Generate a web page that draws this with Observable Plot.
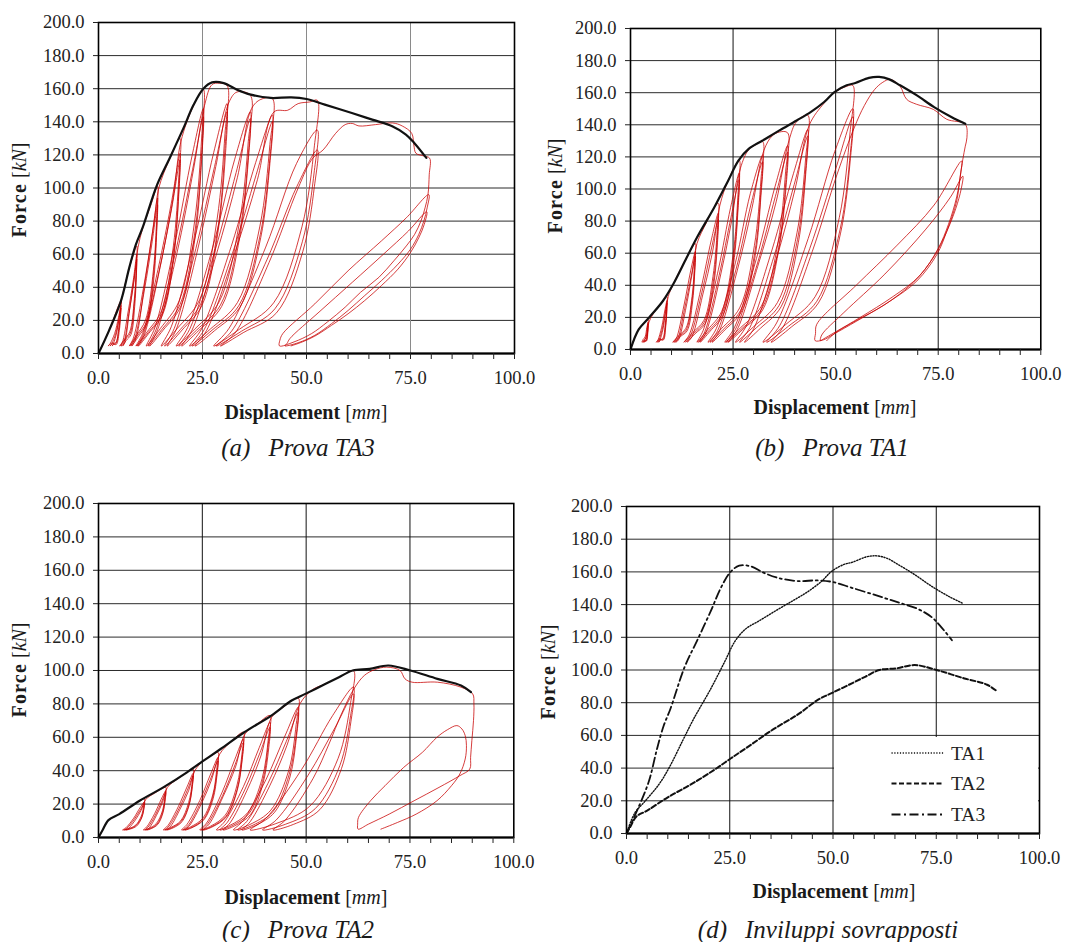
<!DOCTYPE html>
<html><head><meta charset="utf-8">
<script src="https://cdn.jsdelivr.net/npm/d3@7"></script>
<script src="https://cdn.jsdelivr.net/npm/@observablehq/plot@0.6"></script>
<style>
body{margin:0;background:#fff;}
#root{position:relative;width:1067px;height:942px;overflow:hidden;font-family:'Liberation Serif',serif;color:#1a1a1a;}
.t{position:absolute;white-space:nowrap;transform:translate(-50%,-50%);line-height:1;}
.xt{font-size:20px;}
.yt{font-size:20px;transform:translate(-50%,-50%) rotate(-90deg);}
.yt b{letter-spacing:1.2px;}
.cap{font-size:25px;font-style:italic;}
.cap span{margin-right:18px;}
</style></head><body><div id="root"></div>
<script>
// ---- ticks ----
const yTicks = [0,20,40,60,80,100,120,140,160,180,200];
const xMinorTicks = [0,5,10,15,20,25,30,35,40,45,50,55,60,65,70,75,80,85,90,95,100];
const xLabelTicks = [0,25,50,75,100];
const xGridTicks = [25,50,75];
const legendLabels = ["TA1","TA2","TA3"];

// ---- envelopes (x mm, F kN), flat pairs ----
const ta3Envelope = [0,0, 2.5,13.7, 5.4,31.8, 7.4,51.9, 9,65.9, 10.6,76, 14.1,102, 17.1,118, 20.4,136, 22.8,150, 25.2,160, 27.3,163.8, 30.1,163.4, 33.3,159.4, 36.6,156.4, 41.4,154.4, 46.3,154.8, 50,153.8, 54.4,150.4, 60.9,145.3, 65.8,141.3, 70.6,137.3, 73.9,132.3, 75.9,127.2, 78.8,118.2];
const ta1Envelope = [0,0, 2,12.5, 4.5,19.8, 7.9,30.2, 10.4,40.6, 13.7,57.3, 16.2,69.8, 20.4,88.5, 23.8,105.2, 26.3,117.7, 28.8,125, 32.2,130.2, 36.3,136.5, 40.5,142.7, 43.9,147.9, 47.2,154.2, 49.7,160.4, 52.7,164.6, 54.8,166, 58.1,169.2, 60.6,169.8, 63.1,168.3, 65.7,164.6, 69.8,158.3, 74,151, 78.2,144.8, 81.6,140.6];
const ta2Envelope = [0,0, 0.9,4, 2.4,10.4, 5,14, 9.9,22, 15.6,30, 21.3,39, 25.3,46, 29.4,53, 35.1,63, 41.6,73, 46.5,82, 49.8,86, 54.7,92, 57.9,96, 61.2,100, 65.3,101, 69.8,103, 75.1,100, 81.6,95, 87.3,91, 89.7,87];

// ---- hysteresis loops, one flat array per load level ----
const ta3Loops = [
[0,0, 2.5,13.7, 5.4,31.8, 5.3,26.1, 4.9,15.9, 4.1,6.4, 3.1,6.2, 2.3,4.5, 2.8,6, 3.9,12.2, 4.8,21.8, 5.4,29, 5.3,23.8, 4.9,14.5, 4.1,5.8, 3.3,5.8, 2.8,4.5, 3.2,6, 4.1,11.6, 4.9,20.6, 5.4,27.5, 5.3,22.5, 5.0,13.8, 4.3,5.5, 3.6,5.5, 3.3,4.5],
[3.6,6, 4.4,13, 5.2,26, 5.6,33, 7.4,51.5, 9.2,65, 9.1,53.3, 8.6,32.5, 7.5,13, 6.2,8.5, 5.1,4.5, 5.7,6.5, 7.1,25, 8.4,45, 9.2,60, 9.1,49, 8.6,30, 7.6,12, 6.3,8.2, 5.4,4.5, 6,6, 7.3,24, 8.5,43, 9.2,57, 9.1,47, 8.7,28.5, 7.8,11.4, 6.7,8, 5.8,4.5],
[6.3,6.5, 7.5,27, 8.8,50, 9.5,64, 10.6,75.5, 12.5,89, 14.2,101, 14.0,82.8, 13.2,50.5, 11.3,20.2, 9.1,11, 7.4,4.5, 8.4,9.4, 10.8,39.5, 12.8,70.5, 14.2,94, 14.0,77, 13.2,47, 11.5,18.8, 9.3,10.6, 7.7,4.5, 8.7,9, 11,37.8, 12.9,67.5, 14.2,90, 14.0,73.8, 13.3,45, 11.6,18, 9.6,10.3, 8.0,4.5],
[9,9, 11.1,42, 13.4,80, 14.5,100, 17.1,117.5, 19.6,130, 19.3,106.6, 18.0,65, 15.2,26, 11.7,13.1, 9.0,4.5, 10.6,12.1, 14.3,50.8, 17.5,90.8, 19.6,121, 19.3,99.2, 18.1,60.5, 15.3,24.2, 11.9,12.5, 9.3,4.5, 10.8,11.7, 14.5,49, 17.6,87.8, 19.6,117, 19.3,96, 18.1,58.5, 15.4,23.4, 12.1,12.2, 9.6,4.5],
[11.1,12, 14.8,52, 18,95, 19.8,128, 22.8,149.5, 25.2,159.5, 24.8,130.8, 23.1,79.8, 19.4,31.9, 14.9,15.2, 11.5,4.5, 13.6,16, 18.4,67, 22.5,119.6, 25.2,148, 24.8,121.4, 23.2,74, 19.6,29.6, 15.2,14.4, 11.9,4.5, 13.9,14.8, 18.6,62.2, 22.6,111, 25.2,143, 24.8,117.3, 23.3,71.5, 19.8,28.6, 15.5,14, 12.3,4.5],
[14.2,14.3, 18.8,60, 22.9,112, 25.5,150, 27.3,162.5, 29,163.3, 30.9,162, 30.4,132.8, 28.5,81, 24.3,32.4, 19.0,15.3, 15.1,4.5, 17.5,16.2, 23.0,68, 27.7,121.5, 30.9,151, 30.4,123.8, 28.7,75.5, 24.6,30.2, 19.7,14.6, 15.9,4.5, 18.2,15.1, 23.4,63.4, 27.9,113, 30.9,146, 30.5,119.7, 28.7,73, 24.9,29.2, 20.1,14.2, 16.5,4.5],
[18.7,14.6, 23.7,61.3, 28.2,113, 31.4,152, 33.3,158, 36.5,156, 36.0,127.9, 33.8,78, 29.0,31.2, 23.2,14.9, 18.7,4.5, 21.4,15.6, 27.6,65.5, 32.7,117, 36.5,146, 36.0,119.7, 33.9,73, 29.3,29.2, 23.6,14.2, 19.3,4.5, 21.9,14.6, 27.9,61.3, 33.1,109.5, 36.5,142, 36.0,116.4, 34.0,71, 29.6,28.4, 24.1,13.9, 20.0,4.5],
[22.5,14.2, 28.3,59.6, 33.4,106.5, 36.8,148, 39,153.5, 41.8,154, 41.2,126.3, 38.8,77, 33.4,30.8, 26.9,14.8, 21.9,4.5, 24.9,15.4, 31.9,64.7, 37.8,115.5, 41.8,144, 41.2,118, 38.9,72, 33.7,28.8, 27.3,14.1, 22.5,4.5, 25.4,14.4, 32.2,60.5, 37.9,108, 41.8,140, 41.2,114.8, 39.0,70, 34.0,28, 27.9,13.8, 23.2,4.5],
[26,14, 32.5,58.8, 38.2,105, 42.2,146, 45.5,147, 48,151, 50.8,152, 52.6,153, 51.9,125.5, 48.9,76.5, 42.1,30.6, 33.9,14.7, 27.7,4.5, 31.4,15.3, 40.2,64.3, 47.6,114.8, 52.6,135, 51.9,110.7, 49,67.5, 42.4,27, 34.4,13.5, 28.3,4.5, 32,13.5, 40.5,56.7, 47.7,101, 52.6,123, 51.9,100.9, 49.1,61.5, 42.8,24.6, 34.8,12.6, 29.3,4.5],
[32.8,12.3, 41,55, 48,100, 51.5,118, 54,123, 57,133, 59.3,138.3, 61,139, 62.6,137.5, 66.6,138.3, 70.7,139.3, 73,137.5, 75.3,133, 75.8,126, 76.3,121, 78,119.5, 79.6,118, 79.5,108, 79.2,96, 78.5,88, 77.5,80, 76,72, 74,65, 71,56, 67.4,46, 63,37, 59.3,28, 55,19, 51.2,12, 47,7, 43.5,4.6, 43.6,8, 44.3,12, 52,30, 60,50, 68,68, 74,82, 79.4,96, 79.0,88, 78.2,80, 77,72, 75,63, 72,54, 68,44, 64,35, 60,26, 56,18, 52,11, 48,6.5, 44.8,4.6, 45.3,6, 46,9, 53,25, 61,43, 68.5,60, 74.5,74, 78.9,85.6, 78.3,78, 77,70, 75,61, 72,51, 68,41, 64,32, 60,24, 56,17, 52,10.5, 49,7, 46.3,4.6]
];

const ta1Loops = [
[0,0, 2,12.5, 4.3,18.5, 4.25,15.2, 4.1,9.3, 3.7,5.5, 3.2,5.3, 2.8,4.5, 3.0,6, 3.55,7.8, 4.0,13.9, 4.3,17, 4.25,13.9, 4.1,8.5, 3.8,5.4, 3.4,5.2, 3.1,4.5, 3.3,6, 3.7,7.1, 4.05,12.8, 4.3,16, 4.25,13.1, 4.15,8, 3.9,5.3, 3.55,5.1, 3.3,4.5],
[3.5,6, 4.0,9, 4.5,17, 5.5,22, 7.9,30.2, 8.9,33, 8.8,27.1, 8.5,16.5, 7.8,6.6, 6.95,6.3, 6.3,4.5, 6.7,6, 7.6,13.9, 8.4,24.8, 8.9,30.5, 8.85,25, 8.55,15.3, 7.9,6.1, 7.2,6.1, 6.6,4.5, 6.95,6, 7.75,12.8, 8.45,22.9, 8.9,29, 8.85,23.8, 8.6,14.5, 8.05,6, 7.4,6, 6.9,4.5],
[7.2,6, 7.9,12.5, 8.6,24, 9.2,33, 10.4,40.6, 13.7,57.3, 15.8,66, 15.6,54.1, 15,33, 13.5,13.2, 11.7,8.6, 10.3,4.5, 11.1,6.6, 13.05,27.7, 14.7,49.5, 15.8,61, 15.65,50, 15,30.5, 13.6,12.2, 11.9,8.3, 10.6,4.5, 11.4,6.1, 13.2,25.6, 14.8,45.8, 15.8,58, 15.65,47.6, 15.1,29, 13.8,11.6, 12.2,8.1, 11.0,4.5],
[11.7,6, 13.4,24.4, 15,47, 16.2,66, 18.5,79, 20.4,88.5, 21.4,91, 21.15,74.6, 20.1,45.5, 17.9,18.2, 15.1,10.4, 13.0,4.5, 14.3,9.1, 17.2,38.2, 19.7,68.3, 21.4,85, 21.15,69.7, 20.2,42.5, 18.0,17, 15.4,10, 13.4,4.5, 14.6,8.5, 17.4,35.7, 19.8,63.8, 21.4,81, 21.2,66.4, 20.3,40.5, 18.2,16.2, 15.7,9.7, 13.8,4.5],
[15,8.1, 17.6,34, 20,60.8, 21.8,90, 23.8,105.2, 26.5,118, 26.2,96.8, 25,59, 22.2,23.6, 18.8,12.3, 16.2,4.5, 17.7,11.8, 21.4,49.6, 24.4,88.5, 26.5,110, 26.2,90.2, 25,55, 22.3,22, 19.1,11.7, 16.6,4.5, 18.1,11, 21.6,46.2, 24.5,82.5, 26.5,106, 26.2,86.9, 25.1,53, 22.5,21.2, 19.4,11.4, 17.0,4.5],
[18.4,10.6, 21.8,44.5, 24.6,79.5, 26.8,113, 28.8,124.5, 30.5,127.5, 32.2,129.5, 31.8,106.2, 30.2,64.8, 26.6,25.9, 22.2,13.1, 18.9,4.5, 20.9,13, 25.6,54.4, 29.2,97.1, 32.2,121, 31.8,99.2, 30.3,60.5, 26.8,24.2, 22.6,12.5, 19.4,4.5, 21.3,12.1, 25.8,50.8, 29.4,90.8, 32.2,117, 31.8,96, 30.4,58.5, 27.0,23.4, 23.0,12.2, 19.9,4.5],
[21.7,11.7, 26,49, 29.6,88, 32.5,124, 34.5,133, 36.3,135.5, 38.3,135, 37.8,110.7, 36,67.5, 31.9,27, 26.8,13.5, 23.0,4.5, 25.3,13.5, 30.7,56.7, 35.2,101.3, 38.3,127, 37.85,104.1, 36.1,63.5, 32.0,25.4, 27.1,12.9, 23.4,4.5, 25.6,12.7, 30.9,53.3, 35.3,95.3, 38.3,123, 37.9,100.9, 36.1,61.5, 32.2,24.6, 27.4,12.6, 23.8,4.5],
[26,12.3, 31,51.7, 35.5,92, 38.6,130, 40.5,142, 43.2,146, 42.7,119.7, 40.6,73, 35.8,29.2, 30,14.2, 25.6,4.5, 28.2,14.6, 34.4,61.3, 39.7,109.5, 43.2,137, 42.7,112.3, 40.7,68.5, 36.2,27.4, 30.7,13.6, 26.6,4.5, 29.1,13.7, 34.9,57.5, 39.9,102.8, 43.2,133, 42.7,109.1, 40.9,66.5, 36.7,26.6, 31.7,13.3, 27.8,4.5],
[30.1,13.3, 35.5,55.9, 40.1,99.8, 43.6,140, 47.2,153.5, 49.7,160, 52.7,164, 54.2,164.5, 53.5,134.9, 50.9,82.3, 45,32.9, 37.8,15.5, 32.3,4.5, 35.6,16.5, 43.3,69.1, 49.8,123.4, 54.2,150, 53.6,123, 51.1,75, 45.4,30, 38.5,14.5, 33.2,4.5, 36.4,15, 43.7,63, 50,112.5, 54.2,145, 53.6,118.9, 51.2,72.5, 45.8,29, 39.3,14.2, 34.3,4.5],
[37.3,14.5, 44.3,61, 50.3,108.8, 54.5,138, 57,152, 59.5,162, 61.5,166.5, 63.3,168.3, 65.7,164, 67.3,155.9, 69.7,152.8, 73.8,149.6, 77.1,143.4, 81.6,140.3, 82,132, 81.6,126.7, 81,118.5, 80.3,107, 79.5,92.5, 77.1,73.8, 74.7,59.3, 69.8,42.7, 63.3,30.2, 55.2,17.8, 49.5,9.5, 47,6, 45,5.5, 45.1,10, 45.4,15.7, 55,40, 65,65, 74,90, 80.7,117.4, 80.5,110, 79.5,95, 77.5,78, 75,63, 70.5,46, 64,33, 56,20, 50,11, 47,6.5, 46.3,5.5, 46.6,9, 52,23, 62,47, 72,75, 78,95, 81,108, 80.6,100, 79.3,88, 77,73, 74,58, 69,42, 62,28, 55,18, 50,10.5, 47.8,5.5]
];

const ta2Loops = [
[0,0, 0.9,4, 2.4,10.4, 5,14, 9.9,22, 11.1,23, 10.9,19.3, 10.3,12.8, 8.9,7.3, 7.1,5.2, 5.8,4.5, 6.6,5.8, 8.45,11.5, 10.0,17.8, 11.1,21.5, 10.95,18.1, 10.4,12.2, 9.0,7.1, 7.4,5.2, 6.2,4.5, 6.9,5.7, 8.65,11, 10.1,16.7, 11.1,20.5, 10.95,17.3, 10.4,11.7, 9.2,6.9, 7.7,5.1, 6.6,4.5],
[7.3,5.6, 8.9,10.6, 10.2,16, 11.4,22.8, 13.5,26.5, 16.2,30, 16.0,24.9, 15.4,16, 13.9,8.3, 12.2,5.5, 10.8,4.5, 11.6,6.3, 13.5,14.2, 15.1,22.9, 16.2,28, 16.05,23.3, 15.45,15.1, 14.1,8, 12.5,5.4, 11.2,4.5, 11.9,6.1, 13.7,13.4, 15.2,21.4, 16.2,27, 16.05,22.5, 15.5,14.6, 14.3,7.9, 12.8,5.4, 11.6,4.5],
[12.3,6, 13.9,13, 15.4,21, 16.6,30, 19,35, 21.3,39, 22.8,41, 22.6,33.7, 21.7,20.9, 19.8,10, 17.4,6, 15.6,4.5, 16.7,7.1, 19.2,18.4, 21.4,30.8, 22.8,38.5, 22.6,31.7, 21.8,19.8, 19.9,9.6, 17.7,5.9, 16.0,4.5, 17,6.9, 19.4,17.4, 21.5,29, 22.8,37, 22.6,30.5, 21.8,19.1, 20.1,9.4, 18,5.8, 16.4,4.5],
[17.4,6.8, 19.6,16.8, 21.7,28, 23.2,40, 25.3,46, 27.5,49.5, 28.8,51, 28.5,41.7, 27.5,25.4, 25.1,11.5, 22.2,6.4, 20.0,4.5, 21.3,7.8, 24.4,22.2, 27.0,38, 28.8,48, 28.55,39.3, 27.5,24.1, 25.3,11, 22.5,6.2, 20.4,4.5, 21.7,7.5, 24.6,21, 27.1,35.8, 28.8,46, 28.55,37.7, 27.6,23.2, 25.4,10.7, 22.8,6.2, 20.8,4.5],
[22,7.4, 24.8,20.3, 27.2,34.4, 29.2,50, 32,57.5, 34.9,63, 34.6,51.3, 33.3,30.8, 30.5,13.3, 27.0,6.8, 24.4,4.5, 26,8.6, 29.7,26.7, 32.8,46.6, 34.9,59, 34.6,48.1, 33.4,29, 30.7,12.7, 27.4,6.7, 24.8,4.5, 26.3,8.3, 29.9,25.2, 32.9,43.7, 34.9,57, 34.6,46.5, 33.4,28.1, 30.8,12.4, 27.6,6.6, 25.2,4.5],
[26.7,8.2, 30,24.5, 33,42.3, 35.3,62, 38.5,68.5, 41.3,73, 40.9,59.3, 39.4,35.3, 35.9,14.8, 31.6,7.2, 28.4,4.5, 30.3,9.3, 34.9,30.5, 38.7,53.8, 41.3,69, 40.9,56.1, 39.5,33.5, 36.2,14.2, 32.2,7.1, 29.2,4.5, 31,9, 35.3,29, 38.9,50.9, 41.3,66, 41,53.7, 39.6,32.2, 36.6,13.7, 32.8,7, 30.0,4.5],
[31.7,8.8, 35.7,27.9, 39.1,48.8, 41.7,72, 44.5,78, 48.1,83.5, 47.6,67.7, 45.8,40.1, 41.5,16.4, 36.4,7.7, 32.5,4.5, 34.8,10, 40.3,34.5, 45,61.4, 48.1,78, 47.7,63.3, 45.9,37.6, 42,15.5, 37.2,7.4, 33.5,4.5, 35.7,9.6, 40.8,32.4, 45.2,57.4, 48.1,75, 47.7,60.9, 46.1,36.2, 42.4,15.1, 37.9,7.3, 34.5,4.5],
[36.5,9.4, 41.3,31.3, 45.4,55.3, 48.5,80, 51.5,88.5, 54.7,92, 58,96, 61.4,99.8, 60.7,80.7, 57.7,47.4, 50.9,18.8, 42.7,8.3, 36.5,4.5, 40.2,11.2, 48.9,40.7, 56.4,73.1, 61.4,90, 60.7,72.9, 58.1,43, 52.2,17.3, 45.0,7.9, 39.5,4.5, 42.8,10.5, 50.4,37, 57,66, 61.4,86, 60.8,69.7, 58.5,41.2, 53.3,16.7, 46.9,7.8, 42,4.5],
[44.9,10.2, 51.7,35.5, 55.5,56, 58.5,74, 61.5,89, 64,97, 66.5,100.5, 69.4,102, 72.6,100, 73.8,95, 75.5,93, 81.6,93, 87.3,90, 90.1,86, 90.4,80, 90.3,70, 89.9,58, 89.6,48, 89.4,41, 87,37, 82,30, 76,22, 70,14, 65,8, 62.5,5, 62.4,8, 62.6,12, 65.5,22, 69,31, 73.5,42, 78,51, 81.5,60, 84,64.5, 86.3,67, 87.5,65, 88.3,61, 88.6,55, 88.3,47, 87,38, 85,31, 81.5,22, 76.5,14, 72,9, 68,5]
];

function pts(flat){ const out=[]; for(let i=0;i<flat.length;i+=2) out.push({x:flat[i],y:flat[i+1]}); return out; }

const FONT = "'Liberation Serif', serif";
const root = document.getElementById("root");

function makePanel(p){
  const mL=100, mT=22, mR=24, mB=50;
  const W = p.x100 - p.x0, H = p.y0 - p.y200;
  const marks = [
    Plot.gridY(yTicks, {stroke:"#2a2a2a", strokeOpacity:1, strokeWidth:1}),
    Plot.gridX(xGridTicks, {stroke:p.vgrid, strokeOpacity:1, strokeWidth:1})
  ];
  if (p.loops) {
    marks.push(Plot.line(pts(p.loops.flat()), {x:"x", y:"y", stroke:"#c80000", strokeWidth:0.85, strokeOpacity:0.9, curve:"catmull-rom"}));
    marks.push(Plot.line(pts(p.env), {x:"x", y:"y", stroke:"#111", strokeWidth:2.2, curve:"catmull-rom"}));
  }
  if (p.overlay) {
    p.overlay.forEach(s => marks.push(Plot.line(pts(s.data), {x:"x", y:"y", stroke:"#111", strokeWidth:s.w, strokeDasharray:s.dash, curve:"catmull-rom"})));
  }
  marks.push(Plot.frame({stroke:"#000", strokeWidth:1.6}));
  marks.push(Plot.ruleY([0], {stroke:"#000", strokeWidth:2.2}));
  marks.push(Plot.axisY(yTicks, {tickFormat:d3.format(".1f"), tickSize:5, tickPadding:9, fontSize:18.5, label:null}));
  marks.push(Plot.axisX(xMinorTicks, {tickFormat:d => xLabelTicks.includes(d) ? d3.format(".1f")(d) : "", tickSize:6, tickPadding:11, fontSize:18.5, label:null}));
  const svg = Plot.plot({
    width: W+mL+mR, height: H+mT+mB,
    marginLeft:mL, marginTop:mT, marginRight:mR, marginBottom:mB,
    x:{domain:[0,100]}, y:{domain:[0,200]},
    style:{fontFamily:FONT, fontSize:"18.5px", color:"#222", background:"transparent", overflow:"visible"},
    marks
  });
  svg.style.position="absolute";
  svg.style.left=(p.x0-mL)+"px";
  svg.style.top=(p.y200-mT)+"px";
  root.appendChild(svg);
  const addText=(cls,html,x,y)=>{const d=document.createElement("div");d.className="t "+cls;d.innerHTML=html;d.style.left=x+"px";d.style.top=y+"px";root.appendChild(d);};
  addText("yt","<b>Force</b> [<i>kN</i>]",p.yt[0],p.yt[1]);
  addText("xt","<b>Displacement</b> [<i>mm</i>]",p.xt[0],p.xt[1]);
  addText("cap","<span>"+p.cap[0]+"</span>"+p.cap[1],p.cp[0],p.cp[1]);
}

makePanel({x0:97.5,x100:513.5,y0:352.5,y200:21.5,vgrid:"#8a8a8a",loops:ta3Loops,env:ta3Envelope,yt:[19,190],xt:[306,412],cap:["(a)","Prova TA3"],cp:[298,447]});
makePanel({x0:630.4,x100:1040.7,y0:348.5,y200:27.5,vgrid:"#111",loops:ta1Loops,env:ta1Envelope,yt:[555,186],xt:[835,407],cap:["(b)","Prova TA1"],cp:[832,447]});
makePanel({x0:97.7,x100:513,y0:836.7,y200:502.7,vgrid:"#111",loops:ta2Loops,env:ta2Envelope,yt:[19,670],xt:[306,897],cap:["(c)","Prova TA2"],cp:[298,929]});
makePanel({x0:626,x100:1039,y0:832.5,y200:505.5,vgrid:"#111",
  overlay:[{data:ta1Envelope,dash:"1.2,1.6",w:1.4},{data:ta2Envelope,dash:"5,2.5",w:2},{data:ta3Envelope,dash:"9,3.5,2,3.5",w:1.8}],
  yt:[548,672],xt:[834,891],cap:["(d)","Inviluppi sovrapposti"],cp:[828,929]});

// legend box for panel (d)
const lg = document.createElementNS("http://www.w3.org/2000/svg","svg");
lg.setAttribute("width",204); lg.setAttribute("height",95);
lg.style.position="absolute"; lg.style.left="834px"; lg.style.top="737px"; lg.style.background="#fff";
const dashes=[["1.2,1.6",1.4],["5,2.5",2],["9,3.5,2,3.5",1.8]];
const rows=[16,46.5,77.5];
legendLabels.forEach((lab,i)=>{
  const l=document.createElementNS("http://www.w3.org/2000/svg","line");
  l.setAttribute("x1",57.5);l.setAttribute("x2",110);l.setAttribute("y1",rows[i]);l.setAttribute("y2",rows[i]);
  l.setAttribute("stroke","#111");l.setAttribute("stroke-width",dashes[i][1]);l.setAttribute("stroke-dasharray",dashes[i][0]);
  lg.appendChild(l);
  const t=document.createElementNS("http://www.w3.org/2000/svg","text");
  t.setAttribute("x",117);t.setAttribute("y",rows[i]+6.5);t.setAttribute("font-family",FONT);t.setAttribute("font-size","19.5");t.setAttribute("fill","#222");
  t.textContent=lab; lg.appendChild(t);
});
root.appendChild(lg);
</script></body></html>
